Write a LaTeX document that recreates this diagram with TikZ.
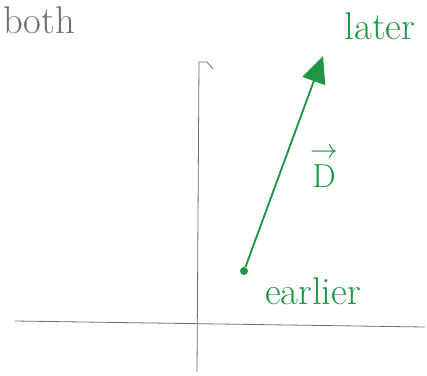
\documentclass[tikz,border=0pt]{standalone}
\usepackage{amsmath}
\usetikzlibrary{arrows.meta}
\definecolor{inkgreen}{RGB}{30,150,70}
\definecolor{pencil}{RGB}{110,110,110}
\tikzset{
  axis/.style={pencil,line width=0.6pt},
  handtext/.style={font=\fontsize{29}{31}\selectfont},
}
\begin{document}
\begin{tikzpicture}[x=0.75pt,y=-0.75pt]
\useasboundingbox (0,0) rectangle (427,375);
% axes
\draw[axis] (197,372) -- (199,62) -- (207,62) -- (213,69);
\draw[axis] (15,321) -- (425,327);
%
\node[handtext,text=pencil] (both) at (39,20) {both};
\node[circle,fill=inkgreen,inner sep=0pt,minimum size=6pt] (start) at (244,271) {};
\coordinate (tip) at (323,56);
\draw[inkgreen,line width=1.4pt,-{Triangle[length=20pt,width=18pt]}] (start) -- (tip);
\node[handtext,text=inkgreen] (earlier) at (313,291) {earlier};
\node[handtext,text=inkgreen] (later) at (380,26) {later};
\node[handtext,text=inkgreen] (vecD) at (324,166) {$\overset{\rightarrow}{\mathrm{D}}$};
\end{tikzpicture}
\end{document}
